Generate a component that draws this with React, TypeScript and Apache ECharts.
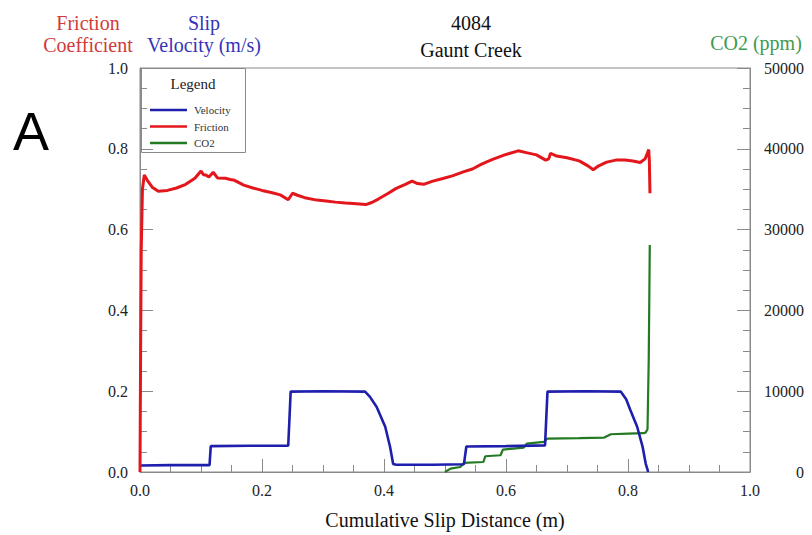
import React, { useEffect, useRef } from "react";
import * as echarts from "echarts";

// ---- Data ----
const velocityDistance = [0, 0.05, 0.114, 0.116, 0.18, 0.243, 0.247, 0.3, 0.369, 0.377, 0.388, 0.402, 0.41, 0.415, 0.42, 0.48, 0.531, 0.535, 0.6, 0.664, 0.668, 0.73, 0.788, 0.797, 0.804, 0.815, 0.824, 0.829, 0.832, 0.833];
const velocityValues = [0.016, 0.017, 0.017, 0.064, 0.065, 0.065, 0.199, 0.2, 0.199, 0.186, 0.161, 0.112, 0.062, 0.02, 0.018, 0.018, 0.019, 0.063, 0.064, 0.066, 0.199, 0.2, 0.199, 0.18, 0.153, 0.112, 0.062, 0.021, 0.006, 0];

const frictionDistance = [0, 0.001, 0.002, 0.004, 0.007, 0.012, 0.02, 0.03, 0.045, 0.06, 0.075, 0.09, 0.1, 0.104, 0.108, 0.113, 0.12, 0.127, 0.14, 0.148, 0.155, 0.17, 0.185, 0.2, 0.215, 0.23, 0.243, 0.25, 0.258, 0.27, 0.29, 0.305, 0.32, 0.337, 0.355, 0.37, 0.38, 0.39, 0.405, 0.42, 0.435, 0.446, 0.455, 0.465, 0.48, 0.495, 0.512, 0.53, 0.545, 0.56, 0.578, 0.6, 0.62, 0.635, 0.65, 0.665, 0.67, 0.673, 0.683, 0.7, 0.72, 0.735, 0.743, 0.752, 0.765, 0.78, 0.795, 0.808, 0.82, 0.828, 0.832, 0.834, 0.835, 0.836];
const frictionValues = [0, 0.3, 0.55, 0.7, 0.735, 0.722, 0.705, 0.695, 0.697, 0.703, 0.712, 0.727, 0.745, 0.736, 0.735, 0.73, 0.742, 0.728, 0.727, 0.724, 0.722, 0.71, 0.703, 0.697, 0.692, 0.686, 0.674, 0.69, 0.685, 0.679, 0.673, 0.671, 0.668, 0.666, 0.664, 0.662, 0.667, 0.675, 0.688, 0.702, 0.712, 0.72, 0.714, 0.712, 0.72, 0.726, 0.733, 0.743, 0.75, 0.762, 0.774, 0.786, 0.795, 0.79, 0.785, 0.772, 0.775, 0.789, 0.782, 0.778, 0.77, 0.757, 0.748, 0.758, 0.767, 0.772, 0.772, 0.77, 0.766, 0.775, 0.79, 0.798, 0.77, 0.69];

const co2Distance = [0.5, 0.509, 0.525, 0.531, 0.563, 0.566, 0.591, 0.595, 0.629, 0.634, 0.662, 0.668, 0.72, 0.761, 0.772, 0.8, 0.826, 0.829, 0.832, 0.834, 0.835, 0.8357];
const co2Values = [0, 420, 620, 1120, 1240, 1950, 2070, 2780, 3020, 3520, 3720, 4140, 4200, 4260, 4670, 4750, 4800, 4900, 5300, 14000, 22000, 28100];

const titleLines = ["4084", "Gaunt Creek"];
const xAxisTitle = "Cumulative Slip Distance (m)";
const legendNames = ["Velocity", "Friction", "CO2"];

const pair = (xs: number[], ys: number[]) => xs.map((x, i) => [x, ys[i]]);

const SERIF = "Liberation Serif";
const RED = "#e3161b";
const BLUE = "#1f1fae";
const GREEN = "#237a23";
const AXIS = "#8a8a8a";

export default function App() {
  const ref = useRef<HTMLDivElement>(null);
  useEffect(() => {
    if (!ref.current) return;
    const chart = echarts.init(ref.current, undefined, { renderer: "svg" });
    const tick = { show: true, inside: true, length: 13, lineStyle: { color: AXIS, width: 1 } };
    const minor = { show: true, splitNumber: 4, length: 7, lineStyle: { color: AXIS, width: 1 } };
    const labelStyle = { fontFamily: SERIF, fontSize: 16, color: "#222" };
    chart.setOption({
      animation: false,
      backgroundColor: "#ffffff",
      textStyle: { fontFamily: SERIF },
      title: {
        text: titleLines.join("\n"),
        left: 466,
        top: 4,
        textAlign: "center",
        textStyle: { fontFamily: SERIF, fontSize: 20, fontWeight: "normal", color: "#111", lineHeight: 27 },
      },
      grid: { left: 140, right: 62, top: 68, bottom: 63, show: true, borderColor: AXIS, borderWidth: 1 },
      xAxis: {
        type: "value",
        min: 0,
        max: 1,
        interval: 0.2,
        axisLine: { show: true, lineStyle: { color: AXIS } },
        axisTick: tick,
        minorTick: minor,
        splitLine: { show: false },
        axisLabel: { ...labelStyle, margin: 10, formatter: (v: number) => v.toFixed(1) },
        name: xAxisTitle,
        nameLocation: "middle",
        nameGap: 38,
        nameTextStyle: { fontFamily: SERIF, fontSize: 20, color: "#111" },
      },
      yAxis: [
        {
          type: "value",
          min: 0,
          max: 1,
          interval: 0.2,
          position: "left",
          axisLine: { show: true, lineStyle: { color: AXIS } },
          axisTick: tick,
          minorTick: minor,
          splitLine: { show: false },
          axisLabel: { ...labelStyle, margin: 12, formatter: (v: number) => v.toFixed(1) },
        },
        {
          type: "value",
          min: 0,
          max: 50000,
          interval: 10000,
          position: "right",
          axisLine: { show: true, lineStyle: { color: AXIS } },
          axisTick: tick,
          minorTick: minor,
          splitLine: { show: false },
          axisLabel: { ...labelStyle, margin: 54, align: "right", formatter: (v: number) => String(v) },
        },
      ],
      series: [
        {
          name: legendNames[0],
          type: "line",
          showSymbol: false,
          data: pair(velocityDistance, velocityValues),
          lineStyle: { color: BLUE, width: 2.6 },
          itemStyle: { color: BLUE },
          z: 3,
        },
        {
          name: legendNames[1],
          type: "line",
          showSymbol: false,
          data: pair(frictionDistance, frictionValues),
          lineStyle: { color: RED, width: 3 },
          itemStyle: { color: RED },
          z: 3,
        },
        {
          name: legendNames[2],
          type: "line",
          yAxisIndex: 1,
          showSymbol: false,
          data: pair(co2Distance, co2Values),
          lineStyle: { color: GREEN, width: 2.2 },
          itemStyle: { color: GREEN },
          z: 2,
        },
      ],
      graphic: [
        { type: "text", left: 13, top: 104, style: { text: "A", font: "normal 54px 'Liberation Sans', Arial, sans-serif", fill: "#000" } },
        { type: "text", x: 88, y: 23, style: { text: "Friction", font: `20px ${SERIF}`, fill: "#d13a3a", align: "center", verticalAlign: "middle" } },
        { type: "text", x: 88, y: 45, style: { text: "Coefficient", font: `20px ${SERIF}`, fill: "#d13a3a", align: "center", verticalAlign: "middle" } },
        { type: "text", x: 204, y: 23, style: { text: "Slip", font: `20px ${SERIF}`, fill: "#3434b8", align: "center", verticalAlign: "middle" } },
        { type: "text", x: 204, y: 45, style: { text: "Velocity (m/s)", font: `20px ${SERIF}`, fill: "#3434b8", align: "center", verticalAlign: "middle" } },
        { type: "text", x: 756, y: 43, style: { text: "CO2 (ppm)", font: `20px ${SERIF}`, fill: "#3f9a4f", align: "center", verticalAlign: "middle" } },
        {
          type: "group",
          children: [
            { type: "rect", shape: { x: 141.5, y: 68.5, width: 104, height: 84 }, style: { fill: "rgba(255,255,255,0)", stroke: AXIS, lineWidth: 1 } },
            { type: "text", x: 193, y: 84, style: { text: "Legend", font: `15px ${SERIF}`, fill: "#222", align: "center", verticalAlign: "middle" } },
            { type: "line", shape: { x1: 150, y1: 110, x2: 187, y2: 110 }, style: { stroke: BLUE, lineWidth: 2.5 } },
            { type: "line", shape: { x1: 150, y1: 126.5, x2: 187, y2: 126.5 }, style: { stroke: RED, lineWidth: 2.5 } },
            { type: "line", shape: { x1: 150, y1: 143, x2: 187, y2: 143 }, style: { stroke: GREEN, lineWidth: 2.5 } },
            { type: "text", x: 194, y: 110, style: { text: legendNames[0], font: `11px ${SERIF}`, fill: "#333", verticalAlign: "middle" } },
            { type: "text", x: 194, y: 126.5, style: { text: legendNames[1], font: `11px ${SERIF}`, fill: "#333", verticalAlign: "middle" } },
            { type: "text", x: 194, y: 143, style: { text: legendNames[2], font: `11px ${SERIF}`, fill: "#333", verticalAlign: "middle" } },
          ],
        },
      ],
    });
    return () => chart.dispose();
  }, []);
  return <div ref={ref} style={{ position: "fixed", left: 0, top: 0, width: 812, height: 535, background: "#fff" }} />;
}
